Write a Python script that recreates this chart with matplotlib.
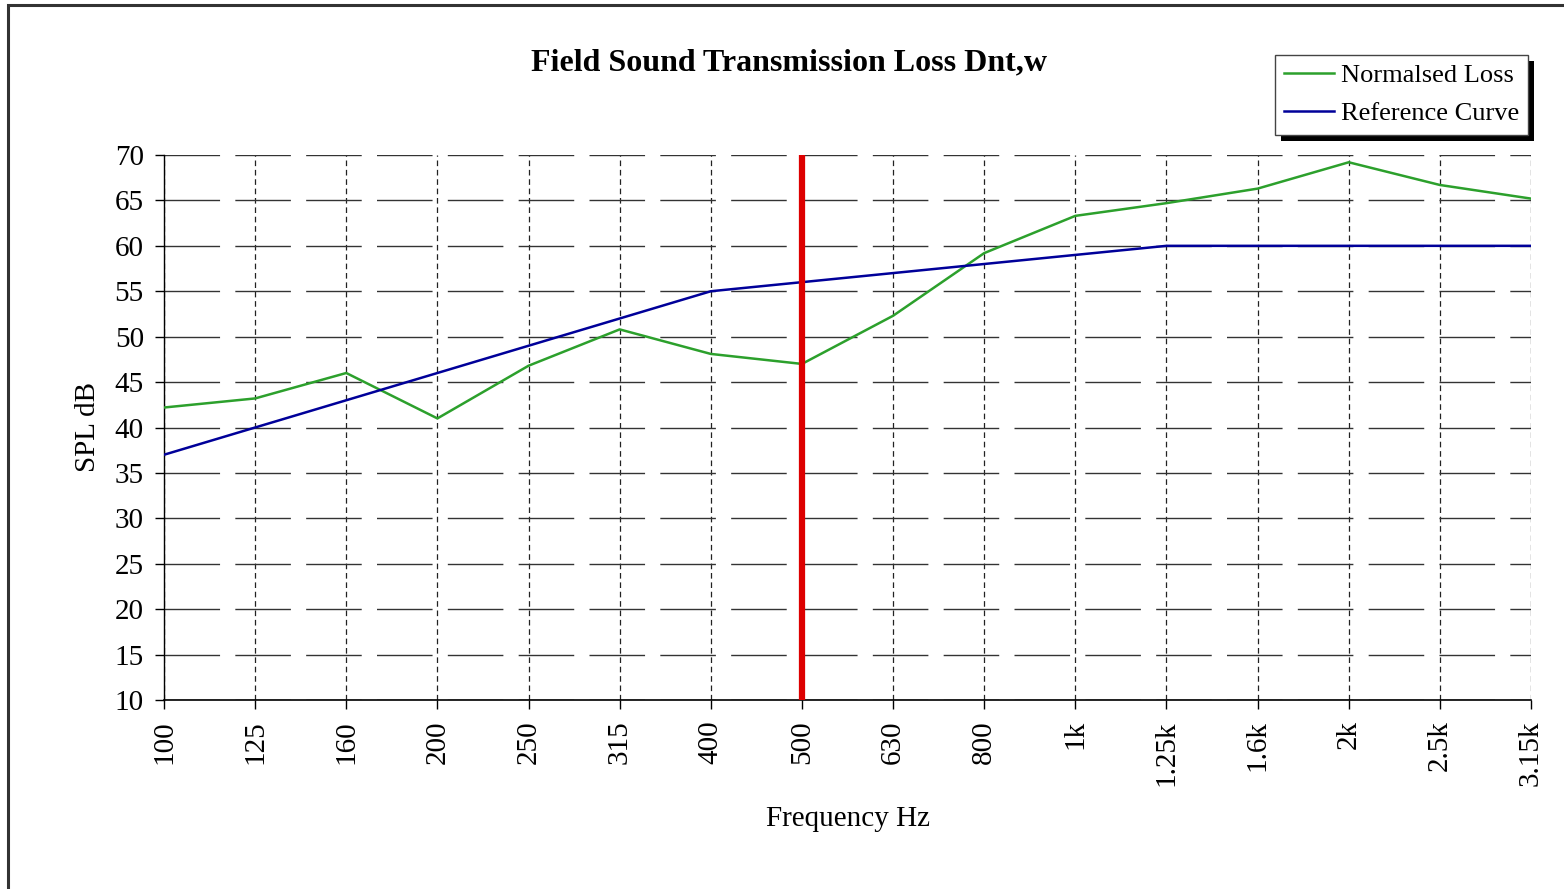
import matplotlib.pyplot as plt
from matplotlib.patches import Rectangle

# Third-octave bands and levels (dB)
bands = ['100', '125', '160', '200', '250', '315', '400', '500',
         '630', '800', '1k', '1.25k', '1.6k', '2k', '2.5k', '3.15k']
normalised_loss = [42.2, 43.2, 46.0, 41.0, 46.8, 50.8, 48.1, 47.0,
                   52.3, 59.2, 63.3, 64.7, 66.3, 69.2, 66.7, 65.2]
reference_curve = [37, 40, 43, 46, 49, 52, 55, 56,
                   57, 58, 59, 60, 60, 60, 60, 60]
marker_band = '500'

plt.rcParams['font.family'] = ['Liberation Serif', 'DejaVu Serif']

W, H = 1564, 889
fig = plt.figure(figsize=(W / 100, H / 100), dpi=100)
ax = fig.add_axes([164 / W, 1 - 700 / H, (1531 - 164) / W, (700 - 155) / H])

# outer chart frame
fig.patches.append(Rectangle((8 / W, -0.1), 1.2, 1.1 - 5 / H,
                             transform=fig.transFigure, fill=False,
                             edgecolor='#333333', linewidth=2.2))

x = list(range(len(bands)))
ax.plot(x, normalised_loss, color='#2ca02c', linewidth=1.8,
        label='Normalsed Loss', zorder=3)
ax.plot(x, reference_curve, color='#000099', linewidth=1.8,
        label='Reference Curve', zorder=3)
ax.axvline(bands.index(marker_band), color='#dd0000', linewidth=4.5, zorder=4)

ax.set_xlim(0, len(bands) - 1)
ax.set_ylim(10, 70)
ax.set_yticks(range(10, 71, 5))
ax.set_xticks(x)
ax.set_xticklabels(bands, rotation=90)
ax.tick_params(labelsize=21, length=6.5, color='black', width=1)
ax.tick_params(axis='y', pad=8)
ax.tick_params(axis='x', pad=8)

ax.grid(axis='y', color='#333333', linestyle=(0, (40, 11)), linewidth=1)
ax.grid(axis='x', color='#222222', linestyle=(0, (4.5, 3)), linewidth=0.9)
ax.set_axisbelow(True)

for side in ('top', 'right'):
    ax.spines[side].set_visible(False)
ax.spines['left'].set_linewidth(1)
ax.spines['bottom'].set_linewidth(1.2)

ax.set_title('Field Sound Transmission Loss Dnt,w', fontsize=23,
             fontweight='bold', pad=61, x=0.457)
ax.set_xlabel('Frequency Hz', fontsize=21, labelpad=15)
ax.set_ylabel('SPL dB', fontsize=21, labelpad=10)

leg = ax.legend(loc='upper right', bbox_to_anchor=(1364 / 1367, 1.184), fontsize=19,
                frameon=True, fancybox=False, edgecolor='#444444',
                framealpha=1, facecolor='white',
                handlelength=1.9, handletextpad=0.25, borderpad=0.35,
                labelspacing=0.55, borderaxespad=0)
leg.get_frame().set_linewidth(1)
leg.set_zorder(10)

# hard black drop shadow behind the legend box
fig.canvas.draw()
bb = leg.get_window_extent()
shadow = Rectangle((bb.x0 + 6, bb.y0 - 6), bb.width, bb.height,
                   transform=None, facecolor='black', edgecolor='none',
                   zorder=9, clip_on=False)
ax.add_artist(shadow)

fig.savefig('out.png', dpi=100)
